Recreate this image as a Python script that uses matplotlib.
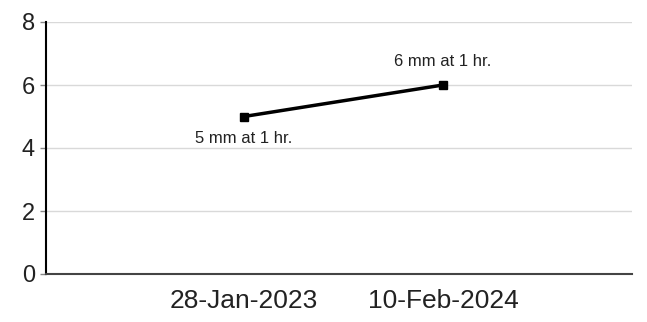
import matplotlib.pyplot as plt

plt.rcParams['font.family'] = ['Liberation Sans', 'DejaVu Sans']

dates = ['28-Jan-2023', '10-Feb-2024']
values = [5, 6]
notes = ['5 mm at 1 hr.', '6 mm at 1 hr.']

fig = plt.figure(figsize=(6.47, 3.22), dpi=100)
ax = fig.add_axes([46 / 647, 48 / 322, 586 / 647, 252 / 322])

x = [1, 2]
ax.plot(x, values, color='black', lw=2.5, marker='s', ms=6, zorder=3)

# value notes: first below, second above
ax.annotate(notes[0], (x[0], values[0]), xytext=(0, -16), textcoords='offset points',
            ha='center', va='center', fontsize=12, color='#222222')
ax.annotate(notes[1], (x[1], values[1]), xytext=(0, 17), textcoords='offset points',
            ha='center', va='center', fontsize=12, color='#222222')

ax.set_ylim(0, 8)
ax.set_yticks([0, 2, 4, 6, 8])
ax.set_xlim(0.005, 2.95)
ax.set_xticks(x)
ax.set_xticklabels(dates)
ax.yaxis.grid(True, color='#d9d9d9', lw=1)
ax.set_axisbelow(True)

for s in ['top', 'right']:
    ax.spines[s].set_visible(False)
ax.spines['left'].set_linewidth(1.5)
ax.spines['bottom'].set_linewidth(1.5)
ax.spines['bottom'].set_color('#444444')

ax.tick_params(axis='y', length=4, width=1, labelsize=17, pad=4, color='#888888', labelcolor='#222222')
ax.tick_params(axis='x', length=0, labelsize=19, pad=11, labelcolor='#222222')

fig.savefig('out.png', dpi=100)
